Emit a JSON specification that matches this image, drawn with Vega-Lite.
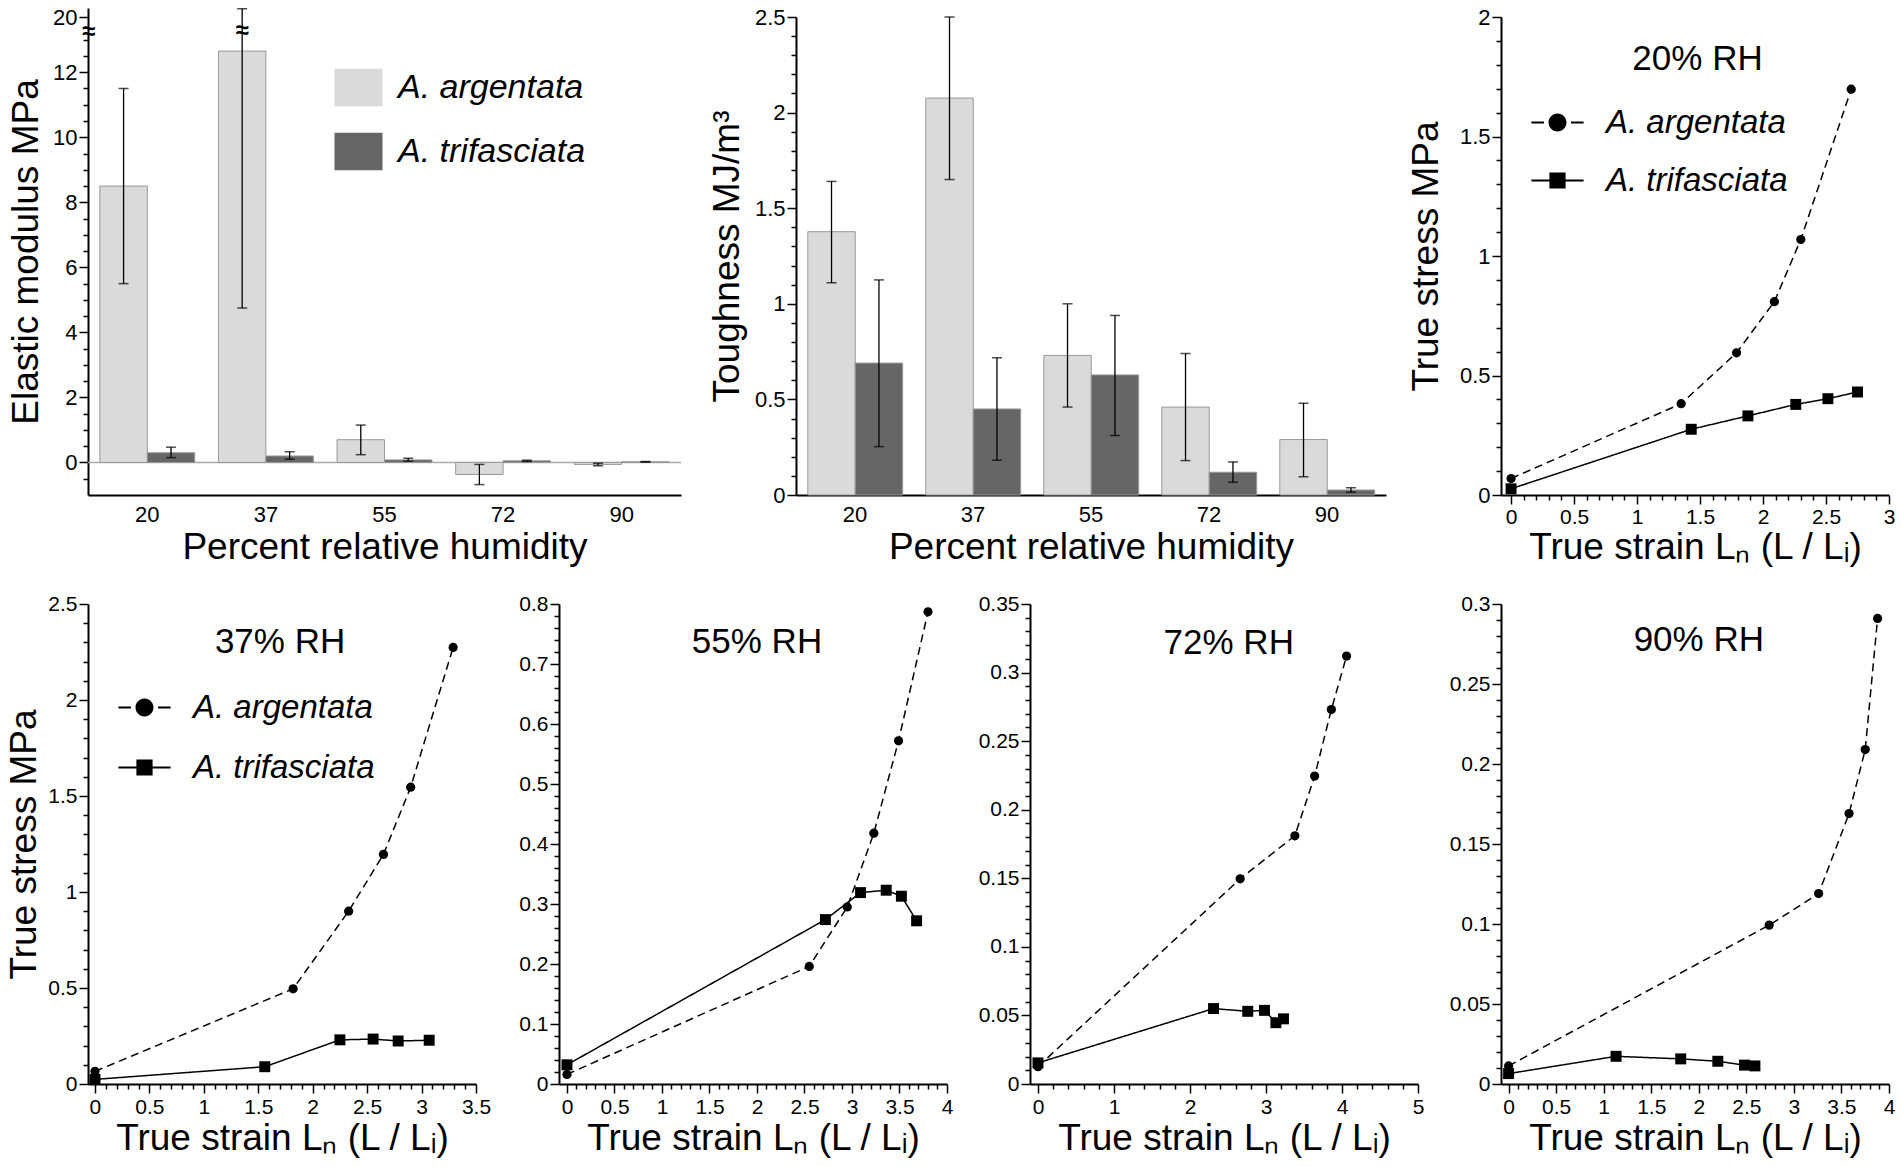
{
  "$schema": "https://vega.github.io/schema/vega-lite/v6.json",
  "background": "white",
  "padding": {"left": 5, "top": 6, "right": 5, "bottom": 5},
  "bounds": "full",
  "spacing": 28,
  "config": {
    "view": {"stroke": null},
    "font": "Liberation Sans",
    "axis": {
      "domainColor": "black", "domainWidth": 2, "tickColor": "black", "tickWidth": 1.5,
      "labelColor": "black", "titleColor": "black", "titleFontWeight": "normal",
      "labelFont": "Liberation Sans", "titleFont": "Liberation Sans",
      "labelFontSize": 21, "titleFontSize": 37, "grid": false,
      "labelOverlap": false, "labelFlush": false, "labelBound": false
    },
    "legend": {"labelFont": "Liberation Sans", "labelColor": "black", "labelFontStyle": "italic", "padding": 0, "labelLimit": 400},
    "text": {"font": "Liberation Sans", "color": "black"}
  },
  "datasets": {
    "modulus": [
      {"rh": "20", "species": "A. argentata", "value": 8.5, "lo": 5.5, "hi": 11.5},
      {"rh": "20", "species": "A. trifasciata", "value": 0.3, "lo": 0.15, "hi": 0.47},
      {"rh": "37", "species": "A. argentata", "value": 12.65, "lo": 4.75, "hi": 20.55},
      {"rh": "37", "species": "A. trifasciata", "value": 0.2, "lo": 0.1, "hi": 0.33},
      {"rh": "55", "species": "A. argentata", "value": 0.7, "lo": 0.24, "hi": 1.15},
      {"rh": "55", "species": "A. trifasciata", "value": 0.08, "lo": 0.04, "hi": 0.13},
      {"rh": "72", "species": "A. argentata", "value": -0.37, "lo": -0.68, "hi": -0.06},
      {"rh": "72", "species": "A. trifasciata", "value": 0.05, "lo": 0.03, "hi": 0.07},
      {"rh": "90", "species": "A. argentata", "value": -0.06, "lo": -0.1, "hi": -0.02},
      {"rh": "90", "species": "A. trifasciata", "value": 0.02, "lo": 0.01, "hi": 0.03}
    ],
    "toughness": [
      {"rh": "20", "species": "A. argentata", "value": 1.377, "lo": 1.11, "hi": 1.64},
      {"rh": "20", "species": "A. trifasciata", "value": 0.69, "lo": 0.253, "hi": 1.125},
      {"rh": "37", "species": "A. argentata", "value": 2.076, "lo": 1.65, "hi": 2.5},
      {"rh": "37", "species": "A. trifasciata", "value": 0.45, "lo": 0.182, "hi": 0.718},
      {"rh": "55", "species": "A. argentata", "value": 0.73, "lo": 0.46, "hi": 1.0},
      {"rh": "55", "species": "A. trifasciata", "value": 0.628, "lo": 0.311, "hi": 0.939},
      {"rh": "72", "species": "A. argentata", "value": 0.46, "lo": 0.18, "hi": 0.74},
      {"rh": "72", "species": "A. trifasciata", "value": 0.119, "lo": 0.067, "hi": 0.173},
      {"rh": "90", "species": "A. argentata", "value": 0.29, "lo": 0.096, "hi": 0.48},
      {"rh": "90", "species": "A. trifasciata", "value": 0.026, "lo": 0.015, "hi": 0.038}
    ],
    "stress": [
      {"rh": 20, "species": "A. argentata", "strain": 0, "stress": 0.069},
      {"rh": 20, "species": "A. argentata", "strain": 1.35, "stress": 0.382},
      {"rh": 20, "species": "A. argentata", "strain": 1.79, "stress": 0.595},
      {"rh": 20, "species": "A. argentata", "strain": 2.09, "stress": 0.809},
      {"rh": 20, "species": "A. argentata", "strain": 2.3, "stress": 1.069},
      {"rh": 20, "species": "A. argentata", "strain": 2.7, "stress": 1.698},
      {"rh": 20, "species": "A. trifasciata", "strain": 0, "stress": 0.026},
      {"rh": 20, "species": "A. trifasciata", "strain": 1.43, "stress": 0.275},
      {"rh": 20, "species": "A. trifasciata", "strain": 1.88, "stress": 0.331},
      {"rh": 20, "species": "A. trifasciata", "strain": 2.26, "stress": 0.379},
      {"rh": 20, "species": "A. trifasciata", "strain": 2.515, "stress": 0.403},
      {"rh": 20, "species": "A. trifasciata", "strain": 2.75, "stress": 0.431},
      {"rh": 37, "species": "A. argentata", "strain": 0, "stress": 0.066},
      {"rh": 37, "species": "A. argentata", "strain": 1.82, "stress": 0.496},
      {"rh": 37, "species": "A. argentata", "strain": 2.33, "stress": 0.9},
      {"rh": 37, "species": "A. argentata", "strain": 2.65, "stress": 1.196},
      {"rh": 37, "species": "A. argentata", "strain": 2.9, "stress": 1.546},
      {"rh": 37, "species": "A. argentata", "strain": 3.29, "stress": 2.274},
      {"rh": 37, "species": "A. trifasciata", "strain": 0, "stress": 0.024},
      {"rh": 37, "species": "A. trifasciata", "strain": 1.56, "stress": 0.09},
      {"rh": 37, "species": "A. trifasciata", "strain": 2.25, "stress": 0.23},
      {"rh": 37, "species": "A. trifasciata", "strain": 2.555, "stress": 0.234},
      {"rh": 37, "species": "A. trifasciata", "strain": 2.785, "stress": 0.224},
      {"rh": 37, "species": "A. trifasciata", "strain": 3.07, "stress": 0.228},
      {"rh": 55, "species": "A. argentata", "strain": 0, "stress": 0.016},
      {"rh": 55, "species": "A. argentata", "strain": 2.55, "stress": 0.196},
      {"rh": 55, "species": "A. argentata", "strain": 2.95, "stress": 0.295},
      {"rh": 55, "species": "A. argentata", "strain": 3.23, "stress": 0.418},
      {"rh": 55, "species": "A. argentata", "strain": 3.49, "stress": 0.572},
      {"rh": 55, "species": "A. argentata", "strain": 3.8, "stress": 0.787},
      {"rh": 55, "species": "A. trifasciata", "strain": 0, "stress": 0.032},
      {"rh": 55, "species": "A. trifasciata", "strain": 2.72, "stress": 0.274},
      {"rh": 55, "species": "A. trifasciata", "strain": 3.09, "stress": 0.319},
      {"rh": 55, "species": "A. trifasciata", "strain": 3.36, "stress": 0.323},
      {"rh": 55, "species": "A. trifasciata", "strain": 3.52, "stress": 0.313},
      {"rh": 55, "species": "A. trifasciata", "strain": 3.68, "stress": 0.272},
      {"rh": 72, "species": "A. argentata", "strain": 0, "stress": 0.0126},
      {"rh": 72, "species": "A. argentata", "strain": 2.66, "stress": 0.1496},
      {"rh": 72, "species": "A. argentata", "strain": 3.38, "stress": 0.181},
      {"rh": 72, "species": "A. argentata", "strain": 3.64, "stress": 0.2245},
      {"rh": 72, "species": "A. argentata", "strain": 3.86, "stress": 0.273},
      {"rh": 72, "species": "A. argentata", "strain": 4.06, "stress": 0.312},
      {"rh": 72, "species": "A. trifasciata", "strain": 0, "stress": 0.0154},
      {"rh": 72, "species": "A. trifasciata", "strain": 2.31, "stress": 0.055},
      {"rh": 72, "species": "A. trifasciata", "strain": 2.76, "stress": 0.053},
      {"rh": 72, "species": "A. trifasciata", "strain": 2.98, "stress": 0.0537},
      {"rh": 72, "species": "A. trifasciata", "strain": 3.13, "stress": 0.0447},
      {"rh": 72, "species": "A. trifasciata", "strain": 3.23, "stress": 0.0475},
      {"rh": 90, "species": "A. argentata", "strain": 0, "stress": 0.0113},
      {"rh": 90, "species": "A. argentata", "strain": 2.74, "stress": 0.0993},
      {"rh": 90, "species": "A. argentata", "strain": 3.26, "stress": 0.119},
      {"rh": 90, "species": "A. argentata", "strain": 3.58, "stress": 0.169},
      {"rh": 90, "species": "A. argentata", "strain": 3.75, "stress": 0.209},
      {"rh": 90, "species": "A. argentata", "strain": 3.88, "stress": 0.291},
      {"rh": 90, "species": "A. trifasciata", "strain": 0, "stress": 0.0065},
      {"rh": 90, "species": "A. trifasciata", "strain": 1.13, "stress": 0.0173},
      {"rh": 90, "species": "A. trifasciata", "strain": 1.81, "stress": 0.0157},
      {"rh": 90, "species": "A. trifasciata", "strain": 2.2, "stress": 0.0142},
      {"rh": 90, "species": "A. trifasciata", "strain": 2.48, "stress": 0.0118},
      {"rh": 90, "species": "A. trifasciata", "strain": 2.59, "stress": 0.0113}
    ]
  },
  "vconcat": [
    {
      "bounds": "flush",
      "spacing": 115,
      "hconcat": [
        {
          "width": 593,
          "height": 478,
          "data": {"name": "modulus"},
          "layer": [
            {
              "data": {"values": [{}]},
              "mark": {"type": "rule", "color": "#aaaaaa", "strokeWidth": 1.5},
              "encoding": {
                "y": {"datum": 0, "type": "quantitative", "scale": {"domain": [-1, 13.2, 20, 20.6], "range": [478, 16.2, 0, -9], "nice": false, "zero": false},
                  "axis": {"orient": "left", "values": [-0.5, 0.5, 1, 1.5, 2.5, 3, 3.5, 4.5, 5, 5.5, 6.5, 7, 7.5, 8.5, 9, 9.5, 10.5, 11, 11.5, 12.5, 13],
                    "labels": false, "domain": false, "tickSize": 5, "title": null}}
              }
            },
            {
              "mark": {"type": "bar", "stroke": "#999999", "strokeWidth": 1},
              "encoding": {
                "x": {"field": "rh", "type": "nominal", "scale": {"type": "band", "paddingInner": 0.2, "paddingOuter": 0.1},
                  "axis": {"orient": "bottom", "title": "Percent relative humidity", "labelAngle": 0, "ticks": false, "labelPadding": 9, "labelFontSize": 22, "titlePadding": 4}},
                "xOffset": {"field": "species", "type": "nominal", "scale": {"type": "band", "paddingInner": 0, "paddingOuter": 0}},
                "y": {"field": "value", "type": "quantitative", "scale": {"domain": [-1, 13.2, 20, 20.6], "range": [478, 16.2, 0, -9], "nice": false, "zero": false},
                  "axis": {"orient": "left", "values": [0, 2, 4, 6, 8, 10, 12, 20], "format": "d", "tickSize": 9, "labelPadding": 2, "labelFontSize": 22,
                    "title": "Elastic modulus MPa", "titlePadding": 7}},
                "color": {"field": "species", "type": "nominal",
                  "scale": {"domain": ["A. argentata", "A. trifasciata"], "range": ["#dadada", "#666666"]}, "legend": null}
              }
            },
            {
              "mark": {"type": "rule", "color": "black", "strokeWidth": 1.3},
              "encoding": {
                "x": {"field": "rh", "type": "nominal", "scale": {"type": "band", "paddingInner": 0.2, "paddingOuter": 0.1}, "axis": null},
                "xOffset": {"field": "species", "type": "nominal", "scale": {"type": "band", "paddingInner": 0, "paddingOuter": 0}},
                "y": {"field": "lo", "type": "quantitative", "scale": {"domain": [-1, 13.2, 20, 20.6], "range": [478, 16.2, 0, -9], "nice": false, "zero": false}, "axis": null},
                "y2": {"field": "hi"}
              }
            },
            {
              "mark": {"type": "tick", "color": "black", "thickness": 1.5, "size": 10},
              "encoding": {
                "x": {"field": "rh", "type": "nominal", "scale": {"type": "band", "paddingInner": 0.2, "paddingOuter": 0.1}, "axis": null},
                "xOffset": {"field": "species", "type": "nominal", "scale": {"type": "band", "paddingInner": 0, "paddingOuter": 0}},
                "y": {"field": "lo", "type": "quantitative", "scale": {"domain": [-1, 13.2, 20, 20.6], "range": [478, 16.2, 0, -9], "nice": false, "zero": false}, "axis": null}
              }
            },
            {
              "mark": {"type": "tick", "color": "black", "thickness": 1.5, "size": 10},
              "encoding": {
                "x": {"field": "rh", "type": "nominal", "scale": {"type": "band", "paddingInner": 0.2, "paddingOuter": 0.1}, "axis": null},
                "xOffset": {"field": "species", "type": "nominal", "scale": {"type": "band", "paddingInner": 0, "paddingOuter": 0}},
                "y": {"field": "hi", "type": "quantitative", "scale": {"domain": [-1, 13.2, 20, 20.6], "range": [478, 16.2, 0, -9], "nice": false, "zero": false}, "axis": null}
              }
            },
            {
              "transform": [{"filter": "datum.rh == '37' && datum.species == 'A. argentata'"}],
              "mark": {"type": "text", "text": "≈", "fontSize": 24, "fontWeight": "bold"},
              "encoding": {
                "x": {"field": "rh", "type": "nominal", "scale": {"type": "band", "paddingInner": 0.2, "paddingOuter": 0.1}, "axis": null},
                "xOffset": {"field": "species", "type": "nominal", "scale": {"type": "band", "paddingInner": 0, "paddingOuter": 0}},
                "y": {"datum": 14, "type": "quantitative", "scale": {"domain": [-1, 13.2, 20, 20.6], "range": [478, 16.2, 0, -9], "nice": false, "zero": false},
                  "axis": {"orient": "left", "values": [14], "labelExpr": "'≈'", "ticks": false, "tickSize": 0, "domain": false, "labelPadding": 0,
                    "labelAlign": "center", "labelFontSize": 24, "labelFontWeight": "bold", "title": null}}
              }
            },
            {
              "transform": [{"filter": "datum.species == 'A. argentata'"}],
              "mark": {"type": "point", "filled": true, "color": "#dadada", "opacity": 0},
              "encoding": {
                "y": {"field": "value", "type": "quantitative", "scale": {"domain": [-1, 13.2, 20, 20.6], "range": [478, 16.2, 0, -9], "nice": false, "zero": false}, "axis": null},
                "shape": {"field": "species", "type": "nominal", "scale": {"domain": ["A. argentata"], "range": ["M-1,-0.78H1V0.78H-1Z"]},
                  "legend": {"title": null, "orient": "none", "legendX": 246, "legendY": 46, "symbolSize": 2304, "symbolOpacity": 1,
                    "symbolStrokeColor": "#888888", "symbolStrokeWidth": 1, "labelFontSize": 34, "labelOffset": 15}}
              }
            },
            {
              "transform": [{"filter": "datum.species == 'A. trifasciata'"}],
              "mark": {"type": "point", "filled": true, "color": "#666666", "opacity": 0},
              "encoding": {
                "y": {"field": "value", "type": "quantitative", "scale": {"domain": [-1, 13.2, 20, 20.6], "range": [478, 16.2, 0, -9], "nice": false, "zero": false}, "axis": null},
                "shape": {"field": "species", "type": "nominal", "scale": {"domain": ["A. trifasciata"], "range": ["M-1,-0.78H1V0.78H-1Z"]},
                  "legend": {"title": null, "orient": "none", "legendX": 246, "legendY": 110, "symbolSize": 2304, "symbolOpacity": 1,
                    "symbolStrokeColor": "#888888", "symbolStrokeWidth": 1, "labelFontSize": 34, "labelOffset": 15}}
              }
            }
          ],
          "resolve": {"axis": {"x": "independent", "y": "independent"}, "scale": {"shape": "independent"}}
        },
        {
          "width": 590,
          "height": 478,
          "data": {"name": "toughness"},
          "layer": [
            {
              "mark": {"type": "bar", "stroke": "#999999", "strokeWidth": 1},
              "encoding": {
                "x": {"field": "rh", "type": "nominal", "scale": {"type": "band", "paddingInner": 0.2, "paddingOuter": 0.1},
                  "axis": {"orient": "bottom", "title": "Percent relative humidity", "labelAngle": 0, "ticks": false, "labelPadding": 9, "labelFontSize": 22, "titlePadding": 4}},
                "xOffset": {"field": "species", "type": "nominal", "scale": {"type": "band", "paddingInner": 0, "paddingOuter": 0}},
                "y": {"field": "value", "type": "quantitative", "scale": {"domain": [0, 2.5], "nice": false, "zero": false},
                  "axis": {"orient": "left", "values": [0, 0.5, 1, 1.5, 2, 2.5], "format": ".1~f", "tickSize": 9, "labelPadding": 2, "labelFontSize": 22,
                    "title": "Toughness MJ/m³", "titlePadding": 8}},
                "color": {"field": "species", "type": "nominal",
                  "scale": {"domain": ["A. argentata", "A. trifasciata"], "range": ["#dadada", "#666666"]}, "legend": null}
              }
            },
            {
              "mark": {"type": "rule", "color": "black", "strokeWidth": 1.3},
              "encoding": {
                "x": {"field": "rh", "type": "nominal", "scale": {"type": "band", "paddingInner": 0.2, "paddingOuter": 0.1}, "axis": null},
                "xOffset": {"field": "species", "type": "nominal", "scale": {"type": "band", "paddingInner": 0, "paddingOuter": 0}},
                "y": {"field": "lo", "type": "quantitative", "scale": {"domain": [0, 2.5], "nice": false, "zero": false},
                  "axis": {"orient": "left", "values": [0.1, 0.2, 0.3, 0.4, 0.6, 0.7, 0.8, 0.9, 1.1, 1.2, 1.3, 1.4, 1.6, 1.7, 1.8, 1.9, 2.1, 2.2, 2.3, 2.4],
                    "labels": false, "domain": false, "tickSize": 5, "title": null}},
                "y2": {"field": "hi"}
              }
            },
            {
              "mark": {"type": "tick", "color": "black", "thickness": 1.5, "size": 10},
              "encoding": {
                "x": {"field": "rh", "type": "nominal", "scale": {"type": "band", "paddingInner": 0.2, "paddingOuter": 0.1}, "axis": null},
                "xOffset": {"field": "species", "type": "nominal", "scale": {"type": "band", "paddingInner": 0, "paddingOuter": 0}},
                "y": {"field": "lo", "type": "quantitative", "scale": {"domain": [0, 2.5], "nice": false, "zero": false}, "axis": null}
              }
            },
            {
              "mark": {"type": "tick", "color": "black", "thickness": 1.5, "size": 10},
              "encoding": {
                "x": {"field": "rh", "type": "nominal", "scale": {"type": "band", "paddingInner": 0.2, "paddingOuter": 0.1}, "axis": null},
                "xOffset": {"field": "species", "type": "nominal", "scale": {"type": "band", "paddingInner": 0, "paddingOuter": 0}},
                "y": {"field": "hi", "type": "quantitative", "scale": {"domain": [0, 2.5], "nice": false, "zero": false}, "axis": null}
              }
            }
          ],
          "resolve": {"axis": {"x": "independent", "y": "independent"}}
        },
        {
          "width": 388,
          "height": 478,
          "data": {"name": "stress"},
          "transform": [{"filter": "datum.rh == 20"}],
          "layer": [
            {
              "mark": {"type": "line", "color": "black", "strokeWidth": 1.5},
              "encoding": {
                "x": {"field": "strain", "type": "quantitative", "scale": {"domain": [-0.08, 3], "nice": false, "zero": false},
                  "axis": {"orient": "bottom", "values": [0, 0.5, 1, 1.5, 2, 2.5, 3], "format": ".1~f", "tickSize": 9, "labelPadding": 2,
                    "title": "True strain Lₙ (L / Lᵢ)", "titlePadding": 2}},
                "y": {"field": "stress", "type": "quantitative", "scale": {"domain": [0, 2], "nice": false, "zero": false},
                  "axis": {"orient": "left", "values": [0, 0.5, 1, 1.5, 2], "format": ".1~f", "tickSize": 9, "labelPadding": 2, "labelFontSize": 22,
                    "title": "True stress MPa", "titlePadding": 14}},
                "strokeDash": {"field": "species", "type": "nominal", "scale": {"domain": ["A. argentata", "A. trifasciata"], "range": [[8, 5], [1, 0]]}, "legend": null}
              }
            },
            {
              "mark": {"type": "point", "filled": true, "color": "black", "opacity": 1},
              "encoding": {
                "x": {"field": "strain", "type": "quantitative", "scale": {"domain": [-0.08, 3], "nice": false, "zero": false},
                  "axis": {"orient": "bottom", "values": [0.1, 0.2, 0.3, 0.4, 0.6, 0.7, 0.8, 0.9, 1.1, 1.2, 1.3, 1.4, 1.6, 1.7, 1.8, 1.9, 2.1, 2.2, 2.3, 2.4, 2.6, 2.7, 2.8, 2.9],
                    "labels": false, "domain": false, "tickSize": 5, "title": null}},
                "y": {"field": "stress", "type": "quantitative", "scale": {"domain": [0, 2], "nice": false, "zero": false},
                  "axis": {"orient": "left", "values": [0.1, 0.2, 0.3, 0.4, 0.6, 0.7, 0.8, 0.9, 1.1, 1.2, 1.3, 1.4, 1.6, 1.7, 1.8, 1.9],
                    "labels": false, "domain": false, "tickSize": 5, "title": null}},
                "shape": {"field": "species", "type": "nominal", "scale": {"domain": ["A. argentata", "A. trifasciata"], "range": ["circle", "square"]}, "legend": null},
                "size": {"field": "species", "type": "nominal", "scale": {"domain": ["A. argentata", "A. trifasciata"], "range": [85, 120]}, "legend": null}
              }
            },
            {
              "mark": {"type": "point", "filled": true, "color": "black", "opacity": 0},
              "encoding": {
                "x": {"field": "strain", "type": "quantitative", "scale": {"domain": [-0.08, 3], "nice": false, "zero": false}, "axis": null},
                "y": {"field": "stress", "type": "quantitative", "scale": {"domain": [0, 2], "nice": false, "zero": false}, "axis": null},
                "shape": {"field": "species", "type": "nominal",
                  "scale": {"domain": ["A. argentata", "A. trifasciata"], "range": ["M-2.9,-0.11H-1.5V0.11H-2.9ZM1.5,-0.11H2.9V0.11H1.5ZM1,0A1,1,0,1,1,-1,0A1,1,0,1,1,1,0Z", "M-2.9,-0.11H2.9V0.11H-2.9ZM-0.9,-0.9H0.9V0.9H-0.9Z"]},
                  "legend": {"title": null, "orient": "none", "legendX": 40, "legendY": 89, "labelFontSize": 33, "labelOffset": 32, "rowPadding": 24,
                    "symbolSize": 324, "symbolOpacity": 1}}
              }
            },
            {
              "data": {"values": [{}]},
              "mark": {"type": "text", "text": "20% RH", "fontSize": 35},
              "encoding": {
                "x": {"datum": 1.48, "type": "quantitative", "scale": {"domain": [-0.08, 3], "nice": false, "zero": false}, "axis": null},
                "y": {"datum": 1.824, "type": "quantitative", "scale": {"domain": [0, 2], "nice": false, "zero": false}, "axis": null}
              }
            }
          ],
          "resolve": {"scale": {"shape": "independent"}, "axis": {"x": "independent", "y": "independent"}}
        }
      ]
    },
    {
      "bounds": "flush",
      "spacing": 83,
      "hconcat": [
        {
          "width": 388,
          "height": 480,
          "data": {"name": "stress"},
          "transform": [{"filter": "datum.rh == 37"}],
          "layer": [
            {
              "mark": {"type": "line", "color": "black", "strokeWidth": 1.5},
              "encoding": {
                "x": {"field": "strain", "type": "quantitative", "scale": {"domain": [-0.064, 3.5], "nice": false, "zero": false},
                  "axis": {"orient": "bottom", "values": [0, 0.5, 1, 1.5, 2, 2.5, 3, 3.5], "format": ".1~f", "tickSize": 9, "labelPadding": 3,
                    "title": "True strain Lₙ (L / Lᵢ)", "titlePadding": 3}},
                "y": {"field": "stress", "type": "quantitative", "scale": {"domain": [0, 2.5], "nice": false, "zero": false},
                  "axis": {"orient": "left", "values": [0, 0.5, 1, 1.5, 2, 2.5], "format": ".1~f", "tickSize": 9, "labelPadding": 2,
                    "title": "True stress MPa", "titlePadding": 4}},
                "strokeDash": {"field": "species", "type": "nominal", "scale": {"domain": ["A. argentata", "A. trifasciata"], "range": [[8, 5], [1, 0]]}, "legend": null}
              }
            },
            {
              "mark": {"type": "point", "filled": true, "color": "black", "opacity": 1},
              "encoding": {
                "x": {"field": "strain", "type": "quantitative", "scale": {"domain": [-0.064, 3.5], "nice": false, "zero": false},
                  "axis": {"orient": "bottom", "values": [0.1, 0.2, 0.3, 0.4, 0.6, 0.7, 0.8, 0.9, 1.1, 1.2, 1.3, 1.4, 1.6, 1.7, 1.8, 1.9, 2.1, 2.2, 2.3, 2.4, 2.6, 2.7, 2.8, 2.9, 3.1, 3.2, 3.3, 3.4],
                    "labels": false, "domain": false, "tickSize": 5, "title": null}},
                "y": {"field": "stress", "type": "quantitative", "scale": {"domain": [0, 2.5], "nice": false, "zero": false},
                  "axis": {"orient": "left", "values": [0.1, 0.2, 0.3, 0.4, 0.6, 0.7, 0.8, 0.9, 1.1, 1.2, 1.3, 1.4, 1.6, 1.7, 1.8, 1.9, 2.1, 2.2, 2.3, 2.4],
                    "labels": false, "domain": false, "tickSize": 5, "title": null}},
                "shape": {"field": "species", "type": "nominal", "scale": {"domain": ["A. argentata", "A. trifasciata"], "range": ["circle", "square"]}, "legend": null},
                "size": {"field": "species", "type": "nominal", "scale": {"domain": ["A. argentata", "A. trifasciata"], "range": [85, 120]}, "legend": null}
              }
            },
            {
              "mark": {"type": "point", "filled": true, "color": "black", "opacity": 0},
              "encoding": {
                "x": {"field": "strain", "type": "quantitative", "scale": {"domain": [-0.064, 3.5], "nice": false, "zero": false}, "axis": null},
                "y": {"field": "stress", "type": "quantitative", "scale": {"domain": [0, 2.5], "nice": false, "zero": false}, "axis": null},
                "shape": {"field": "species", "type": "nominal",
                  "scale": {"domain": ["A. argentata", "A. trifasciata"], "range": ["M-2.9,-0.11H-1.5V0.11H-2.9ZM1.5,-0.11H2.9V0.11H1.5ZM1,0A1,1,0,1,1,-1,0A1,1,0,1,1,1,0Z", "M-2.9,-0.11H2.9V0.11H-2.9ZM-0.9,-0.9H0.9V0.9H-0.9Z"]},
                  "legend": {"title": null, "orient": "none", "legendX": 40, "legendY": 87, "labelFontSize": 33, "labelOffset": 32, "rowPadding": 26,
                    "symbolSize": 324, "symbolOpacity": 1}}
              }
            },
            {
              "data": {"values": [{}]},
              "mark": {"type": "text", "text": "37% RH", "fontSize": 35},
              "encoding": {
                "x": {"datum": 1.7, "type": "quantitative", "scale": {"domain": [-0.064, 3.5], "nice": false, "zero": false}, "axis": null},
                "y": {"datum": 2.3, "type": "quantitative", "scale": {"domain": [0, 2.5], "nice": false, "zero": false}, "axis": null}
              }
            }
          ],
          "resolve": {"scale": {"shape": "independent"}, "axis": {"x": "independent", "y": "independent"}}
        },
        {
          "width": 388,
          "height": 480,
          "data": {"name": "stress"},
          "transform": [{"filter": "datum.rh == 55"}],
          "layer": [
            {
              "mark": {"type": "line", "color": "black", "strokeWidth": 1.5},
              "encoding": {
                "x": {"field": "strain", "type": "quantitative", "scale": {"domain": [-0.084, 4], "nice": false, "zero": false},
                  "axis": {"orient": "bottom", "values": [0, 0.5, 1, 1.5, 2, 2.5, 3, 3.5, 4], "format": ".1~f", "tickSize": 9, "labelPadding": 3,
                    "title": "True strain Lₙ (L / Lᵢ)", "titlePadding": 3}},
                "y": {"field": "stress", "type": "quantitative", "scale": {"domain": [0, 0.8], "nice": false, "zero": false},
                  "axis": {"orient": "left", "values": [0, 0.1, 0.2, 0.3, 0.4, 0.5, 0.6, 0.7, 0.8], "format": ".1~f", "tickSize": 9, "labelPadding": 2, "title": null}},
                "strokeDash": {"field": "species", "type": "nominal", "scale": {"domain": ["A. argentata", "A. trifasciata"], "range": [[8, 5], [1, 0]]}, "legend": null}
              }
            },
            {
              "mark": {"type": "point", "filled": true, "color": "black", "opacity": 1},
              "encoding": {
                "x": {"field": "strain", "type": "quantitative", "scale": {"domain": [-0.084, 4], "nice": false, "zero": false},
                  "axis": {"orient": "bottom", "values": [0.1, 0.2, 0.3, 0.4, 0.6, 0.7, 0.8, 0.9, 1.1, 1.2, 1.3, 1.4, 1.6, 1.7, 1.8, 1.9, 2.1, 2.2, 2.3, 2.4, 2.6, 2.7, 2.8, 2.9, 3.1, 3.2, 3.3, 3.4, 3.6, 3.7, 3.8, 3.9],
                    "labels": false, "domain": false, "tickSize": 5, "title": null}},
                "y": {"field": "stress", "type": "quantitative", "scale": {"domain": [0, 0.8], "nice": false, "zero": false},
                  "axis": {"orient": "left", "values": [0.02, 0.04, 0.06, 0.08, 0.12, 0.14, 0.16, 0.18, 0.22, 0.24, 0.26, 0.28, 0.32, 0.34, 0.36, 0.38, 0.42, 0.44, 0.46, 0.48, 0.52, 0.54, 0.56, 0.58, 0.62, 0.64, 0.66, 0.68, 0.72, 0.74, 0.76, 0.78],
                    "labels": false, "domain": false, "tickSize": 5, "title": null}},
                "shape": {"field": "species", "type": "nominal", "scale": {"domain": ["A. argentata", "A. trifasciata"], "range": ["circle", "square"]}, "legend": null},
                "size": {"field": "species", "type": "nominal", "scale": {"domain": ["A. argentata", "A. trifasciata"], "range": [85, 120]}, "legend": null}
              }
            },
            {
              "data": {"values": [{}]},
              "mark": {"type": "text", "text": "55% RH", "fontSize": 35},
              "encoding": {
                "x": {"datum": 2.0, "type": "quantitative", "scale": {"domain": [-0.084, 4], "nice": false, "zero": false}, "axis": null},
                "y": {"datum": 0.737, "type": "quantitative", "scale": {"domain": [0, 0.8], "nice": false, "zero": false}, "axis": null}
              }
            }
          ],
          "resolve": {"axis": {"x": "independent", "y": "independent"}}
        },
        {
          "width": 388,
          "height": 480,
          "data": {"name": "stress"},
          "transform": [{"filter": "datum.rh == 72"}],
          "layer": [
            {
              "mark": {"type": "line", "color": "black", "strokeWidth": 1.5},
              "encoding": {
                "x": {"field": "strain", "type": "quantitative", "scale": {"domain": [-0.105, 5], "nice": false, "zero": false},
                  "axis": {"orient": "bottom", "values": [0, 1, 2, 3, 4, 5], "format": "d", "tickSize": 9, "labelPadding": 3,
                    "title": "True strain Lₙ (L / Lᵢ)", "titlePadding": 3}},
                "y": {"field": "stress", "type": "quantitative", "scale": {"domain": [0, 0.35], "nice": false, "zero": false},
                  "axis": {"orient": "left", "values": [0, 0.05, 0.1, 0.15, 0.2, 0.25, 0.3, 0.35], "format": ".2~f", "tickSize": 9, "labelPadding": 2, "title": null}},
                "strokeDash": {"field": "species", "type": "nominal", "scale": {"domain": ["A. argentata", "A. trifasciata"], "range": [[8, 5], [1, 0]]}, "legend": null}
              }
            },
            {
              "mark": {"type": "point", "filled": true, "color": "black", "opacity": 1},
              "encoding": {
                "x": {"field": "strain", "type": "quantitative", "scale": {"domain": [-0.105, 5], "nice": false, "zero": false},
                  "axis": {"orient": "bottom", "values": [0.2, 0.4, 0.6, 0.8, 1.2, 1.4, 1.6, 1.8, 2.2, 2.4, 2.6, 2.8, 3.2, 3.4, 3.6, 3.8, 4.2, 4.4, 4.6, 4.8],
                    "labels": false, "domain": false, "tickSize": 5, "title": null}},
                "y": {"field": "stress", "type": "quantitative", "scale": {"domain": [0, 0.35], "nice": false, "zero": false},
                  "axis": {"orient": "left", "values": [0.01, 0.02, 0.03, 0.04, 0.06, 0.07, 0.08, 0.09, 0.11, 0.12, 0.13, 0.14, 0.16, 0.17, 0.18, 0.19, 0.21, 0.22, 0.23, 0.24, 0.26, 0.27, 0.28, 0.29, 0.31, 0.32, 0.33, 0.34],
                    "labels": false, "domain": false, "tickSize": 5, "title": null}},
                "shape": {"field": "species", "type": "nominal", "scale": {"domain": ["A. argentata", "A. trifasciata"], "range": ["circle", "square"]}, "legend": null},
                "size": {"field": "species", "type": "nominal", "scale": {"domain": ["A. argentata", "A. trifasciata"], "range": [85, 120]}, "legend": null}
              }
            },
            {
              "data": {"values": [{}]},
              "mark": {"type": "text", "text": "72% RH", "fontSize": 35},
              "encoding": {
                "x": {"datum": 2.51, "type": "quantitative", "scale": {"domain": [-0.105, 5], "nice": false, "zero": false}, "axis": null},
                "y": {"datum": 0.3215, "type": "quantitative", "scale": {"domain": [0, 0.35], "nice": false, "zero": false}, "axis": null}
              }
            }
          ],
          "resolve": {"axis": {"x": "independent", "y": "independent"}}
        },
        {
          "width": 388,
          "height": 480,
          "data": {"name": "stress"},
          "transform": [{"filter": "datum.rh == 90"}],
          "layer": [
            {
              "mark": {"type": "line", "color": "black", "strokeWidth": 1.5},
              "encoding": {
                "x": {"field": "strain", "type": "quantitative", "scale": {"domain": [-0.08, 4], "nice": false, "zero": false},
                  "axis": {"orient": "bottom", "values": [0, 0.5, 1, 1.5, 2, 2.5, 3, 3.5, 4], "format": ".1~f", "tickSize": 9, "labelPadding": 3,
                    "title": "True strain Lₙ (L / Lᵢ)", "titlePadding": 3}},
                "y": {"field": "stress", "type": "quantitative", "scale": {"domain": [0, 0.3], "nice": false, "zero": false},
                  "axis": {"orient": "left", "values": [0, 0.05, 0.1, 0.15, 0.2, 0.25, 0.3], "format": ".2~f", "tickSize": 9, "labelPadding": 2, "title": null}},
                "strokeDash": {"field": "species", "type": "nominal", "scale": {"domain": ["A. argentata", "A. trifasciata"], "range": [[8, 5], [1, 0]]}, "legend": null}
              }
            },
            {
              "mark": {"type": "point", "filled": true, "color": "black", "opacity": 1},
              "encoding": {
                "x": {"field": "strain", "type": "quantitative", "scale": {"domain": [-0.08, 4], "nice": false, "zero": false},
                  "axis": {"orient": "bottom", "values": [0.1, 0.2, 0.3, 0.4, 0.6, 0.7, 0.8, 0.9, 1.1, 1.2, 1.3, 1.4, 1.6, 1.7, 1.8, 1.9, 2.1, 2.2, 2.3, 2.4, 2.6, 2.7, 2.8, 2.9, 3.1, 3.2, 3.3, 3.4, 3.6, 3.7, 3.8, 3.9],
                    "labels": false, "domain": false, "tickSize": 5, "title": null}},
                "y": {"field": "stress", "type": "quantitative", "scale": {"domain": [0, 0.3], "nice": false, "zero": false},
                  "axis": {"orient": "left", "values": [0.01, 0.02, 0.03, 0.04, 0.06, 0.07, 0.08, 0.09, 0.11, 0.12, 0.13, 0.14, 0.16, 0.17, 0.18, 0.19, 0.21, 0.22, 0.23, 0.24, 0.26, 0.27, 0.28, 0.29],
                    "labels": false, "domain": false, "tickSize": 5, "title": null}},
                "shape": {"field": "species", "type": "nominal", "scale": {"domain": ["A. argentata", "A. trifasciata"], "range": ["circle", "square"]}, "legend": null},
                "size": {"field": "species", "type": "nominal", "scale": {"domain": ["A. argentata", "A. trifasciata"], "range": [85, 120]}, "legend": null}
              }
            },
            {
              "data": {"values": [{}]},
              "mark": {"type": "text", "text": "90% RH", "fontSize": 35},
              "encoding": {
                "x": {"datum": 2.0, "type": "quantitative", "scale": {"domain": [-0.08, 4], "nice": false, "zero": false}, "axis": null},
                "y": {"datum": 0.2776, "type": "quantitative", "scale": {"domain": [0, 0.3], "nice": false, "zero": false}, "axis": null}
              }
            }
          ],
          "resolve": {"axis": {"x": "independent", "y": "independent"}}
        }
      ]
    }
  ]
}
